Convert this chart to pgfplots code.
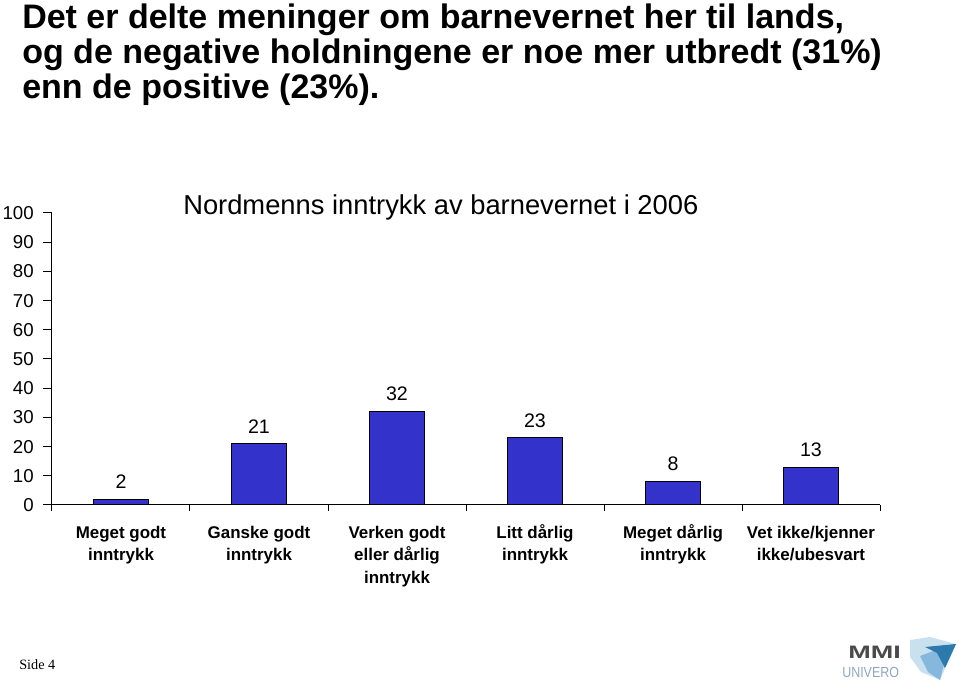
\documentclass[border=0pt]{standalone}
\usepackage{fontspec}
\setmainfont{Liberation Sans}
\newfontfamily\seriffont{Liberation Serif}
\usepackage{graphicx}
\usepackage{pgfplots}
\pgfplotsset{compat=1.18}
\definecolor{barblue}{HTML}{3333CC}
\definecolor{logogray}{HTML}{4A4A4A}
\definecolor{logolight}{HTML}{8FA6BD}
\definecolor{logoblue0}{HTML}{C9E0EF}
\definecolor{logoblue1}{HTML}{86B8DD}
\definecolor{logoblue2}{HTML}{2C79AE}
\newcommand{\ls}{\rule{0pt}{12pt}}
\begin{document}
\begin{tikzpicture}
\begin{axis}[
  at={(0,0)}, anchor=south west,
  scale only axis, width=621pt, height=219pt,
  xmin=-0.5, xmax=5.5, ymin=0, ymax=100,
  axis lines*=left,
  axis line style={black, line width=0.75pt},
  every tick/.style={black, line width=0.75pt},
  ybar, bar width=41.25pt,
  xtick={0,...,5},
  xticklabels={{\ls Meget godt\\inntrykk},{\ls Ganske godt\\inntrykk},{\ls Verken godt\\eller dårlig\\inntrykk},{\ls Litt dårlig\\inntrykk},{\ls Meget dårlig\\inntrykk},{\ls Vet ikke/kjenner\\ikke/ubesvart}},
  major x tick style={draw=none},
  minor xtick={-0.5,0.5,...,5.5},
  ytick={0,10,...,100},
  tick align=outside,
  major tick length=6.75pt, minor tick length=4.5pt,
  /pgf/number format/assume math mode=true,
  xticklabel style={font=\bfseries\fontsize{12.7}{17}\selectfont, align=center, anchor=north, inner sep=0pt, yshift=-6pt},
  yticklabel style={font=\fontsize{14}{16}\selectfont, anchor=east, inner sep=0pt, xshift=-6.75pt},
  nodes near coords,
  every node near coord/.append style={font=\fontsize{14.7}{16}\selectfont, anchor=south, inner sep=0pt, yshift=7.5pt, black},
  clip=false,
]
\addplot[fill=barblue, draw=black, line width=0.75pt] coordinates {(0,2) (1,21) (2,32) (3,23) (4,8) (5,13)};
\end{axis}
\begin{scope}[x=0.75pt,y=-0.75pt,shift={(-39pt,378.75pt)}]
\path[use as bounding box] (0,0) rectangle (960,681);
\node[anchor=north west, align=left, inner sep=0pt, font=\bfseries\fontsize{25.5}{26.25}\selectfont] at (22,4) {Det er delte meninger om barnevernet her til lands,\\og de negative holdningene er noe mer utbredt (31\%)\\enn de positive (23\%).};
\node[anchor=base west, inner sep=0pt, font=\fontsize{20.5}{24}\selectfont] at (183,215) {Nordmenns inntrykk av barnevernet i 2006};
\node[anchor=base west, inner sep=0pt, font=\seriffont\fontsize{10.7}{12}\selectfont] at (19,670) {Side 4};
\node[anchor=base west, inner sep=0pt, text=logogray, font=\bfseries\fontsize{13.5}{14}\selectfont] at (848,659) {\scalebox{1.5}[1]{MMI}};
\node[anchor=base west, inner sep=0pt, text=logolight, font=\fontsize{11}{12}\selectfont] at (842,677) {\scalebox{0.85}[1]{UNIVERO}};
\fill[logoblue0] (910,640) -- (930,637) -- (956,644) -- (940,680) -- (921,672) -- (910,657) -- cycle;
\fill[logoblue1] (920,656) -- (936,650) -- (945,660) -- (940,680) -- (928,672) -- cycle;
\fill[logoblue2] (925,647) -- (956,644) -- (945,668) -- (937,653) -- cycle;
\end{scope}
\end{tikzpicture}
\end{document}
